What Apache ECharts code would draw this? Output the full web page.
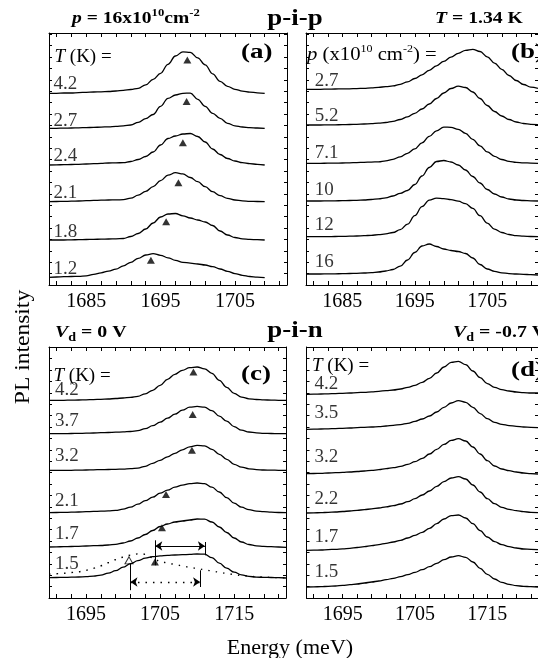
<!DOCTYPE html>
<html>
<head>
<meta charset="utf-8">
<title>PL spectra p-i-p / p-i-n</title>
<script src="https://cdn.jsdelivr.net/npm/echarts@6.0.0/dist/echarts.min.js"></script>
<style>
  html, body { margin: 0; padding: 0; background: #fff; }
  #chart { width: 538px; height: 658px; }
</style>
</head>
<body>
<div id="chart"></div>
<script>
// photon energy grids (meV)
var energyA = [1680,1681,1682,1683,1684,1685,1686,1687,1688,1689,1690,1691,1692,1693,1694,1695,1696,1697,1698,1699,
               1700,1701,1702,1703,1704,1705,1706,1707,1708,1709];
var energyB = [1680,1681,1682,1683,1684,1685,1686,1687,1688,1689,1690,1691,1692,1693,1694,1695,1696,1697,1698,1699,
               1700,1701,1702,1703,1704,1705,1706,1707,1708,1709,1710,1711,1712];
var energyCD = [1690,1691,1692,1693,1694,1695,1696,1697,1698,1699,1700,1701,1702,1703,1704,1705,1706,1707,1708,1709,
                1710,1711,1712,1713,1714,1715,1716,1717,1718,1719,1720,1721,1722];

var xLabelsAB = [1685, 1695, 1705];
var xLabelsCD = [1695, 1705, 1715];

// (a) p-i-p, p = 16e10 cm^-2, different T (PL intensity in a.u., above each baseline)
var namesA = ['4.2', '2.7', '2.4', '2.1', '1.8', '1.2'];
var offsetsA = [19.17, 15.67, 12.0, 8.33, 4.5, 0.77];
var pipT42 = [0,0,.03,.03,.07,.1,.13,.15,.18,.23, .3,.38,.5,.85,1.4,2.0,2.9,3.73,4.15,4.1, 3.55,2.85,1.95,1.2,.7,.4,.22,.12,.05,0];
var pipT27 = [0,0,.02,.03,.05,.07,.09,.12,.15,.2, .25,.33,.6,.97,1.38,2.2,3.0,3.33,3.5,3.52, 2.9,2.2,1.5,1.0,.5,.25,.13,.07,.03,0];
var pipT24 = [0,.02,.03,.05,.07,.1,.13,.16,.2,.22, .23,.35,.55,.85,1.3,2.0,2.65,2.9,3.1,3.15, 2.85,2.3,1.6,1.05,.65,.4,.23,.13,.07,0];
var pipT21 = [0,.02,.03,.05,.07,.1,.13,.15,.17,.18, .2,.35,.65,1.03,1.5,2.1,2.65,2.9,2.78,2.42, 2.0,1.5,1.0,.6,.33,.17,.08,.04,.02,0];
var pipT18 = [0,0,0,.02,.03,.05,.07,.08,.1,.12, .15,.35,.65,1.1,1.7,2.3,2.6,2.65,2.42,2.2, 2.0,1.8,1.45,.9,.5,.25,.12,.06,.03,0];
var pipT12 = [0,.03,.06,.08,.1,.15,.3,.45,.62,.82, 1.15,1.5,1.9,2.23,2.37,2.2,1.95,1.7,1.5,1.42, 1.33,1.23,1.07,.83,.6,.37,.2,.08,.02,-.03];
var peakA_E = [1698.6, 1698.5, 1698.0, 1697.4, 1695.75, 1693.7];
var peakA_H = [3.33, 2.67, 2.23, 1.9, 1.83, 1.7];

// (b) p-i-p, T = 1.34 K, different p
var namesB = ['2.7', '5.2', '7.1', '10', '12', '16'];
var offsetsB = [19.57, 16.0, 12.17, 8.4, 4.83, 1.1];
var pipP27 = [0,0,0,.02,.03,.04,.05,.07,.1,.14, .2,.26,.34,.5,.75,1.08,1.45,1.9,2.35,2.8, 3.22,3.6,3.9,4.0,3.78,3.25,2.62,2.0,1.38,.88, .48,.22,.1];
var pipP52 = [0,0,0,.01,.02,.03,.05,.07,.1,.13, .18,.25,.37,.55,.82,1.17,1.6,2.1,2.65,3.2, 3.65,3.88,3.75,3.3,2.65,1.95,1.35,.9,.55,.3, .15,.07,.04];
var pipP71 = [0,0,0,.01,.02,.03,.05,.07,.1,.12, .15,.25,.4,.65,1.0,1.45,2.05,2.7,3.25,3.62, 3.6,3.4,3.0,2.4,1.75,1.15,.7,.38,.2,.1, .05,.02,0];
var pipP10 = [0,0,0,.01,.02,.03,.05,.07,.1,.15, .22,.32,.5,.77,1.05,1.65,2.5,3.35,3.95,4.05, 3.9,3.6,3.1,2.45,1.8,1.15,.7,.4,.2,.1, .05,.02,0];
var pipP12 = [0,0,0,.01,.02,.03,.05,.07,.1,.14, .2,.28,.42,.7,1.25,2.1,3.0,3.65,3.85,3.8, 3.7,3.55,3.3,2.83,2.1,1.35,.75,.42,.22,.1, .05,.02,0];
var pipP16 = [0,0,0,.01,.02,.03,.05,.07,.1,.14, .2,.3,.45,.78,1.4,2.15,2.8,3.0,2.75,2.5, 2.35,2.25,2.05,1.6,.95,.5,.27,.12,.04,0, -.03,-.07,-.1];

// (c) p-i-n, Vd = 0 V, different T
var namesC = ['4.2', '3.7', '3.2', '2.1', '1.7', '1.5'];
var offsetsC = [19.77, 16.43, 12.77, 8.53, 5.1, 2.03];
var pinT42 = [0,0,0,.02,.03,.05,.07,.1,.13,.18, .23,.3,.4,.65,1.0,1.5,2.1,2.6,3.0,3.27, 3.33,3.15,2.7,2.0,1.3,.7,.32,.15,.08,.04, .02,0,0];
var pinT37 = [0,0,0,.02,.03,.05,.07,.1,.12,.15, .18,.22,.3,.5,.8,1.15,1.55,1.95,2.35,2.65, 2.73,2.65,2.3,1.75,1.25,.7,.35,.17,.08,.04, .02,0,0];
var pinT32 = [0,0,0,0,.02,.03,.05,.07,.08,.1, .12,.16,.22,.4,.7,1.0,1.35,1.7,2.05,2.35, 2.5,2.45,2.1,1.6,1.1,.6,.32,.15,.07,.03, .02,0,0];
var pinT21 = [0,.02,.03,.05,.07,.1,.13,.15,.18,.23, .35,.55,.85,1.2,1.55,1.95,2.25,2.55,2.75,2.9, 2.97,2.9,2.55,2.07,1.5,.95,.55,.3,.15,.1, .05,.02,0];
var pinT17 = [0,.02,.03,.05,.07,.1,.13,.15,.2,.27, .4,.6,.9,1.25,1.65,2.05,2.3,2.5,2.6,2.7, 2.8,2.78,2.5,2.0,1.45,.9,.5,.25,.12,.06, .03,0,-.03];
var pinT15 = [0,.02,.03,.05,.07,.1,.15,.25,.45,.7, 1.05,1.4,1.7,1.95,2.1,2.18,2.23,2.27,2.3,2.33, 2.37,2.35,2.0,1.45,.95,.55,.28,.13,.06,.03, .02,0,-.03];
var pinT15low = [.35,.4,.45,.52,.6,.75,.95,1.2,1.5,1.8, 2.05,2.25,2.38,2.35,2.0,1.62,1.48,1.33,1.18,1.05, .92,.8,.68,.55,.43,.32,.23,.15,.1,.06, .03,0,-.02];
var peakC_E = [1709.5, 1709.4, 1709.3, 1705.8, 1705.25, 1704.3];
var peakC_H = [2.83, 1.93, 2.0, 1.83, 1.93, 1.57];
var openPeakE = 1700.8, openPeakH = 1.73;
// linewidth markers of the 1.5 K spectrum (meV; heights relative to its baseline)
var widthSolidE = [1704.35, 1711.05], widthSolidY = 3.17;
var widthDotE = [1701.0, 1710.4], widthDotY = -0.43;
var barSolidLeft = [1.24, 3.74], barSolidRight = [2.24, 3.57];
var barDotLeft = [-1.25, 1.4], barDotRight = [-0.93, 0.74];

// (d) p-i-n, Vd = -0.7 V, different T
var namesD = ['4.2', '3.5', '3.2', '2.2', '1.7', '1.5'];
var offsetsD = [20.37, 16.87, 12.43, 8.5, 4.77, 1.1];
var pinVT42 = [0,.02,.03,.05,.07,.1,.13,.17,.2,.25, .3,.37,.43,.53,.7,.9,1.2,1.6,2.13,2.73, 3.2,3.3,2.97,2.33,1.67,1.07,.7,.47,.33,.23, .17,.13,.13];
var pinVT35 = [0,.02,.03,.05,.07,.1,.13,.17,.2,.23, .27,.33,.4,.47,.6,.8,1.03,1.33,1.73,2.2, 2.63,2.87,2.7,2.2,1.57,1.07,.7,.5,.37,.3, .23,.2,.17];
var pinVT32 = [0,.02,.03,.07,.1,.13,.17,.22,.27,.33, .4,.5,.6,.73,.93,1.2,1.53,1.97,2.43,2.93, 3.33,3.5,3.27,2.67,1.97,1.3,.77,.47,.3,.17, .07,0,-.03];
var pinVT22 = [0,.02,.03,.07,.1,.15,.2,.27,.33,.42, .5,.62,.73,.9,1.13,1.43,1.8,2.2,2.67,3.13, 3.5,3.63,3.4,2.8,2.1,1.43,.93,.57,.37,.23, .13,.07,.03];
var pinVT17 = [0,.02,.03,.07,.1,.15,.2,.28,.37,.47, .57,.7,.83,1.0,1.23,1.5,1.8,2.2,2.67,3.13, 3.47,3.53,3.23,2.67,1.97,1.33,.87,.57,.37,.23, .13,.1,.07];
var pinVT15 = [0,.02,.03,.07,.1,.16,.23,.3,.4,.5, .6,.73,.87,1.03,1.23,1.47,1.73,2.03,2.37,2.73, 3.0,3.13,2.97,2.5,1.87,1.27,.8,.47,.27,.13, .07,.03,0];

var SERIF = '"Liberation Serif", "Times New Roman", serif';

// labelLift: px between a curve's baseline and the bottom of its label digits
var panels = [
  { grid: {left: 49, top: 33, width: 238, height: 252}, xMin: 1680, xMax: 1712, yMax: 25.2,
    energy: energyA, curves: [pipT42, pipT27, pipT24, pipT21, pipT18, pipT12], offsets: offsetsA,
    names: namesA, labelX: 1680.6, labelLift: [2.6, 0.6, 2.7, 1.7, 1, 1.3], xLabels: xLabelsAB,
    peakE: peakA_E, peakH: peakA_H },
  { grid: {left: 306, top: 33, width: 238, height: 252}, xMin: 1680, xMax: 1712, yMax: 25.2,
    energy: energyB, curves: [pipP27, pipP52, pipP71, pipP10, pipP12, pipP16], offsets: offsetsB,
    names: namesB, labelX: 1681.2, labelLift: [2, 2.3, 3.5, 4.3, 5, 5.7], xLabels: xLabelsAB },
  { grid: {left: 49, top: 347, width: 237, height: 251}, xMin: 1690, xMax: 1722, yMax: 25.1,
    energy: energyCD, curves: [pinT42, pinT37, pinT32, pinT21, pinT17, pinT15], offsets: offsetsC,
    names: namesC, labelX: 1690.8, labelLift: [4, 6, 8, 5, 6.7, 6.7], xLabels: xLabelsCD,
    peakE: peakC_E, peakH: peakC_H },
  { grid: {left: 306.5, top: 347, width: 238, height: 251}, xMin: 1690, xMax: 1722, yMax: 25.1,
    energy: energyCD, curves: [pinVT42, pinVT35, pinVT32, pinVT22, pinVT17, pinVT15], offsets: offsetsD,
    names: namesD, labelX: 1691.1, labelLift: [4, 10, 10, 7.7, 6.7, 8.3], xLabels: xLabelsCD }
];

var grids = [], xAxes = [], yAxes = [], series = [];

panels.forEach(function (p, i) {
  grids.push(p.grid);

  var xTicks = [];
  for (var t = p.xMin + 1; t < p.xMax; t += 2) xTicks.push(t);
  var yTicks = [];
  for (var v = 1.14; v < p.yMax; v += 1.14) yTicks.push(+v.toFixed(2));

  ['bottom', 'top'].forEach(function (pos) {
    xAxes.push({
      gridIndex: i, type: 'value', position: pos, min: p.xMin, max: p.xMax,
      axisLine: {show: true, onZero: false, lineStyle: {color: '#000', width: 1}},
      axisTick: {show: true, inside: true, length: 4, customValues: xTicks, lineStyle: {color: '#000', width: 1}},
      axisLabel: {show: pos === 'bottom', customValues: p.xLabels, color: '#000',
                  fontFamily: SERIF, fontSize: 20, margin: 7,
                  formatter: function (val) { return String(val); }},
      splitLine: {show: false}
    });
  });
  ['left', 'right'].forEach(function (pos) {
    yAxes.push({
      gridIndex: i, type: 'value', position: pos, min: 0, max: p.yMax,
      axisLine: {show: true, onZero: false, lineStyle: {color: '#000', width: 1}},
      axisTick: {show: true, inside: true, length: 3, customValues: yTicks, lineStyle: {color: '#000', width: 1}},
      axisLabel: {show: false},
      splitLine: {show: false}
    });
  });

  p.curves.forEach(function (vals, k) {
    series.push({
      type: 'line', xAxisIndex: 2 * i, yAxisIndex: 2 * i, silent: true,
      symbol: 'none', smooth: 0.4, smoothMonotone: 'x',
      lineStyle: {color: '#000', width: 1.3},
      data: p.energy.map(function (e, j) { return [e, p.offsets[k] + vals[j]]; })
    });
  });

  // curve labels (temperature / density); label box bottom sits ~3 px under the digits
  series.push({
    type: 'scatter', xAxisIndex: 2 * i, yAxisIndex: 2 * i, silent: true, symbolSize: 0,
    data: p.names.map(function (nm, k) {
      return {name: nm, value: [p.labelX, p.offsets[k] + (p.labelLift[k] - 3) / 10]};
    }),
    label: {show: true, formatter: '{b}', position: 'right', distance: 0, align: 'left', verticalAlign: 'bottom',
            color: '#000', fontFamily: SERIF, fontSize: 19}
  });

  // peak markers
  if (p.peakE) {
    series.push({
      type: 'scatter', xAxisIndex: 2 * i, yAxisIndex: 2 * i, silent: true,
      symbol: 'triangle', symbolSize: [8, 7], itemStyle: {color: '#000'},
      data: p.peakE.map(function (e, k) { return [e, p.offsets[k] + p.peakH[k]]; })
    });
  }
});

// panel (c): low-energy component of the 1.5 K spectrum, open marker and linewidth arrows
var base15 = offsetsC[5];
series.push({
  type: 'line', xAxisIndex: 4, yAxisIndex: 4, silent: true, symbol: 'none', smooth: 0.4, smoothMonotone: 'x',
  lineStyle: {color: '#000', width: 1.4, type: [1.5, 6]},
  data: energyCD.map(function (e, j) { return [e, base15 + pinT15low[j]]; }),
  markLine: {
    silent: true, animation: false, symbol: ['arrow', 'arrow'], symbolSize: 7,
    label: {show: false}, emphasis: {disabled: true},
    lineStyle: {color: '#000', width: 1, type: 'solid'},
    data: [
      [{coord: [widthSolidE[0], base15 + widthSolidY]}, {coord: [widthSolidE[1], base15 + widthSolidY]}],
      [{coord: [widthDotE[0], base15 + widthDotY], lineStyle: {type: [1.5, 6], width: 1.4}},
       {coord: [widthDotE[1], base15 + widthDotY]}],
      [{coord: [widthSolidE[0], base15 + barSolidLeft[0]], symbol: 'none'}, {coord: [widthSolidE[0], base15 + barSolidLeft[1]], symbol: 'none'}],
      [{coord: [widthSolidE[1], base15 + barSolidRight[0]], symbol: 'none'}, {coord: [widthSolidE[1], base15 + barSolidRight[1]], symbol: 'none'}],
      [{coord: [widthDotE[0], base15 + barDotLeft[0]], symbol: 'none'}, {coord: [widthDotE[0], base15 + barDotLeft[1]], symbol: 'none'}],
      [{coord: [widthDotE[1], base15 + barDotRight[0]], symbol: 'none'}, {coord: [widthDotE[1], base15 + barDotRight[1]], symbol: 'none'}]
    ]
  }
});
series.push({
  type: 'scatter', xAxisIndex: 4, yAxisIndex: 4, silent: true,
  symbol: 'triangle', symbolSize: [8, 7], itemStyle: {color: '#fff', borderColor: '#000', borderWidth: 1},
  data: [[openPeakE, base15 + openPeakH]]
});

// text styles
var rich = {
  r:  {fontFamily: SERIF, fontSize: 19, fill: '#000', lineHeight: 22},
  ri: {fontFamily: SERIF, fontSize: 19, fontStyle: 'italic', fill: '#000', lineHeight: 22},
  rs: {fontFamily: SERIF, fontSize: 11, fill: '#000', lineHeight: 11, verticalAlign: 'top'},
  b:  {fontFamily: SERIF, fontSize: 17, fontWeight: 'bold', fill: '#000', lineHeight: 22},
  bi: {fontFamily: SERIF, fontSize: 17, fontWeight: 'bold', fontStyle: 'italic', fill: '#000', lineHeight: 22},
  bs: {fontFamily: SERIF, fontSize: 11, fontWeight: 'bold', fill: '#000', lineHeight: 11, verticalAlign: 'top'},
  bd: {fontFamily: SERIF, fontSize: 12, fontWeight: 'bold', fill: '#000', lineHeight: 12, verticalAlign: 'bottom'},
  big: {fontFamily: SERIF, fontSize: 24, fontWeight: 'bold', fill: '#000'},
  tag: {fontFamily: SERIF, fontSize: 20, fontWeight: 'bold', fill: '#000'},
  ax: {fontFamily: SERIF, fontSize: 21, fill: '#000'}
};

function txt(x, y, text, align, sx, rot) {
  return {
    type: 'text', x: x, y: y, scaleX: sx || 1, rotation: rot || 0, z: 100, silent: true,
    style: {text: text, rich: rich, fill: '#000', align: align || 'left', verticalAlign: 'middle'}
  };
}

var graphics = [
  txt(72, 19, '{bi|p}{b| = 16x10}{bs|10}{b|cm}{bs|-2}', 'left', 1.15),
  txt(295, 19, '{big|p-i-p}', 'center', 1.12),
  txt(435, 19, '{bi|T}{b| = 1.34 K}', 'left', 1.16),
  txt(241, 53, '{tag|(a)}', 'left', 1.35),
  txt(511, 53, '{tag|(b)}', 'left', 1.35),
  txt(54.5, 57, '{ri|T}{r| (K) =}', 'left', 1),
  txt(307, 55, '{ri|p}{r| (x10}{rs|10}{r| cm}{rs|-2}{r|) =}', 'left', 1.09),
  txt(55, 333, '{bi|V}{bd|d}{b| = 0 V}', 'left', 1.17),
  txt(295, 331, '{big|p-i-n}', 'center', 1.12),
  txt(453, 333, '{bi|V}{bd|d}{b| = -0.7 V}', 'left', 1.17),
  txt(241, 375, '{tag|(c)}', 'left', 1.35),
  txt(511, 371, '{tag|(d)}', 'left', 1.35),
  txt(53.5, 376, '{ri|T}{r| (K) =}', 'left', 1),
  txt(312, 366, '{ri|T}{r| (K) =}', 'left', 1),
  txt(23, 347, '{ax|PL intensity}', 'center', 1.12, Math.PI / 2),
  txt(290, 648, '{ax|Energy (meV)}', 'center', 1.05)
];

var chart = echarts.init(document.getElementById('chart'), null, {renderer: 'canvas'});
chart.setOption({
  animation: false,
  backgroundColor: '#fff',
  grid: grids,
  xAxis: xAxes,
  yAxis: yAxes,
  series: series,
  graphic: graphics
});
</script>
</body>
</html>
